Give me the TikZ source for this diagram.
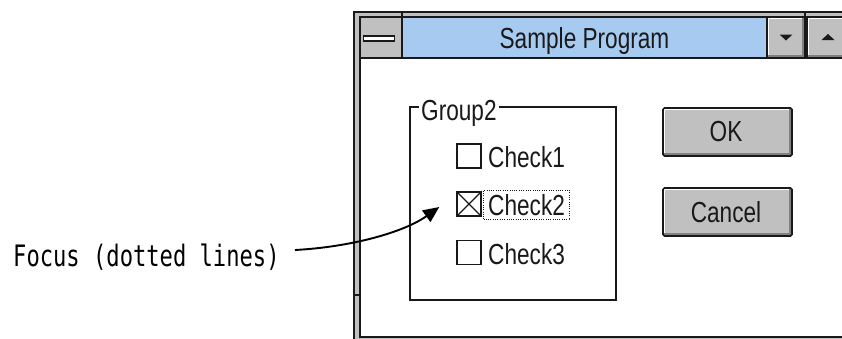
\documentclass[tikz,border=0pt]{standalone}
\usepackage{fontspec}
\newfontfamily\uifont[FakeStretch=0.78]{Liberation Sans}
\newfontfamily\lblfont[FakeStretch=0.75]{DejaVu Sans Mono}
\usetikzlibrary{arrows.meta,fit}
\definecolor{wgray}{RGB}{192,192,192}
\definecolor{dgray}{RGB}{128,128,128}
\definecolor{tblue}{RGB}{166,202,240}
\definecolor{ink}{RGB}{25,25,25}
\begin{document}
\begin{tikzpicture}[x=1pt,y=-1pt,
  frame/.style={draw=ink,line width=1.6pt},
  btn/.style={fill=wgray,draw=ink,line width=1.6pt,rounded corners=1.5pt,inner sep=0pt,
    path picture={
      \draw[white,line width=4pt,sharp corners] (path picture bounding box.south west) -- (path picture bounding box.north west) -- (path picture bounding box.north east);
      \draw[dgray,line width=6.5pt,sharp corners] (path picture bounding box.south west) -- (path picture bounding box.south east) -- (path picture bounding box.north east);
    }},
  uitext/.style={font=\uifont\fontsize{29}{32}\selectfont,text=ink,inner sep=0pt},
  cbox/.style={draw=ink,line width=1.5pt,minimum width=24pt,minimum height=24pt,inner sep=0pt},
  lbl/.style={font=\lblfont\fontsize{29.5}{32}\selectfont,text=black,inner sep=0pt,text height=21pt,text depth=5pt},
  pointer/.style={draw=black,line width=1.9pt,-{Triangle[length=16pt,width=14pt]}}
]
\useasboundingbox (0,0) rectangle (842,338);
\begin{scope}
\clip (0,0) rectangle (842,338);
% window frame
\fill[wgray] (354,12) rectangle (870,360);
\draw[frame] (354,12) rectangle (870,360);
\fill[white] (360,17) rectangle (870,337);
\draw[frame] (360,17) rectangle (870,337);
\draw[frame] (402,12) -- (402,17) (805,12) -- (805,17) (354,295) -- (360,295);
% title bar
\node[fill=tblue,draw=ink,line width=1.6pt,minimum width=365pt,minimum height=41pt,inner sep=0pt] (title) at (584.5,37.5) {};
\node[uitext,anchor=base] (titletext) at (584.5,48) {Sample Program};
% system menu
\node[fill=wgray,draw=ink,line width=1.6pt,minimum width=42pt,minimum height=41pt,inner sep=0pt] (sysmenu) at (381,37.5) {};
\node[fill=white,draw=ink,line width=1.4pt,minimum width=31pt,minimum height=5pt,inner sep=0pt] (sysbar) at (379,38.5) {};
% min / max buttons
\node[btn,rounded corners=0pt,minimum width=38pt,minimum height=41pt] (dn) at (786,37.5) {};
\node[btn,rounded corners=0pt,minimum width=42pt,minimum height=41pt] (up) at (828,37.5) {};
\fill[ink] ([xshift=-6.5pt,yshift=3pt]dn.center) -- ([xshift=6.5pt,yshift=3pt]dn.center) -- ([yshift=-3pt]dn.center) -- cycle;
\fill[ink] ([xshift=-6.5pt,yshift=-2.5pt]up.center) -- ([xshift=6.5pt,yshift=-2.5pt]up.center) -- ([yshift=3.5pt]up.center) -- cycle;
% group box
\draw[ink,line width=1.5pt] (410,107) rectangle (616,300);
\node[uitext,anchor=base west,fill=white,inner xsep=2pt] (group) at (419,120.5) {Group2};
% check boxes
\node[cbox] (cb1) at (469,156) {};
\node[cbox] (cb2) at (469,204) {};
\node[cbox] (cb3) at (469,252.5) {};
\draw[ink,line width=1.1pt] (cb2.north west) -- (cb2.south east) (cb2.south west) -- (cb2.north east);
\node[uitext,anchor=base west] (c1) at (488,167) {Check1};
\node[uitext,anchor=base west] (c2) at (488,215.5) {Check2};
\node[uitext,anchor=base west] (c3) at (488,264) {Check3};
\node[draw=ink,line width=1pt,dash pattern=on 1pt off 1.3pt,fit=(c2),inner xsep=4.5pt,inner ysep=4pt] (focusrect) {};
% buttons
\node[btn,minimum width=129pt,minimum height=48pt] (ok) at (727.5,132) {};
\node[uitext] (oktext) at (726,132) {OK};
\node[btn,minimum width=129pt,minimum height=48pt] (cancel) at (727.5,212) {};
\node[uitext] (canceltext) at (726,212) {Cancel};
\end{scope}
% label and pointer
\node[lbl,anchor=base west] (focus) at (13,266) {Focus (dotted lines)};
\draw[pointer] ([xshift=15pt,yshift=8pt]focus.east) .. controls +(57,-3) and +(-35,25) .. ([xshift=-17pt,yshift=-3pt]cb2.west);
\end{tikzpicture}
\end{document}
